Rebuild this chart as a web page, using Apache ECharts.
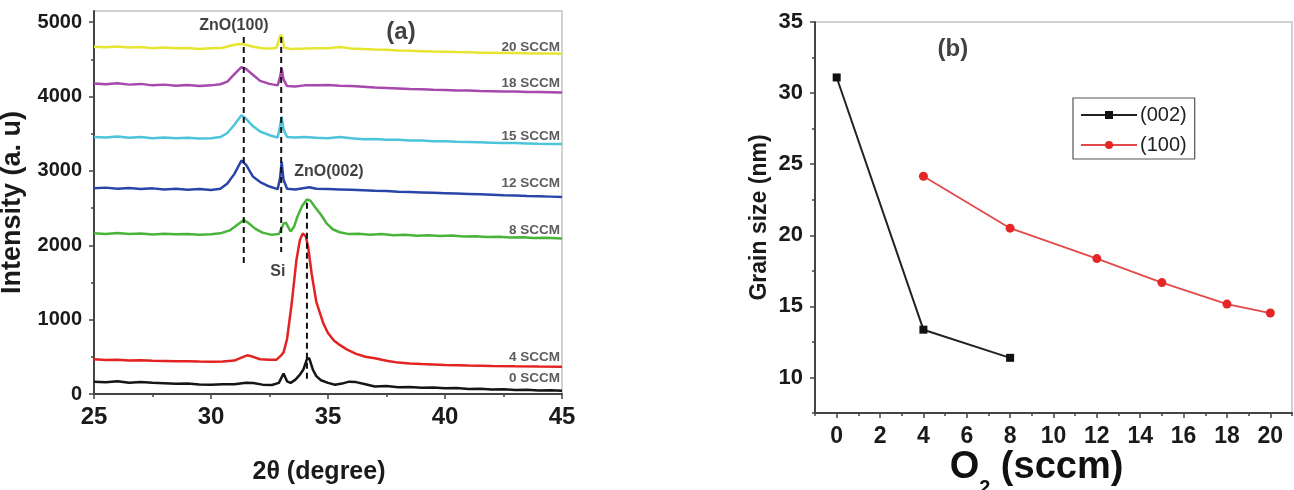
<!DOCTYPE html>
<html>
<head>
<meta charset="utf-8">
<script src="https://cdn.jsdelivr.net/npm/echarts@6/dist/echarts.min.js"></script>
<style>
html, body { margin: 0; padding: 0; background: #fff; }
#chart { width: 1294px; height: 490px; }
</style>
</head>
<body>
<div id="chart"></div>
<script>
// (a) XRD patterns, [2theta, intensity]
const sccm0 = [[25,166],[25.5,158],[26,170],[26.5,152],[27,160],[27.5,150],[28,145],[28.5,138],[29,142],[29.5,128],[30,124],[30.5,130],[31,132],[31.5,150],[31.8,148],[32.2,126],[32.6,122],[32.9,150],[33.1,275],[33.25,170],[33.4,150],[33.6,190],[33.8,260],[33.95,330],[34.1,470],[34.2,480],[34.35,330],[34.5,240],[34.7,185],[35,150],[35.3,125],[35.6,140],[35.9,166],[36.2,160],[36.6,130],[37,100],[37.5,108],[38,92],[38.5,95],[39,85],[39.5,88],[40,76],[40.5,80],[41,68],[41.5,72],[42,60],[42.5,64],[43,55],[43.5,58],[44,48],[44.5,52],[45,45]];
const sccm4 = [[25,466],[25.5,458],[26,462],[26.5,452],[27,455],[27.5,446],[28,444],[28.5,440],[29,442],[29.5,436],[30,434],[30.5,438],[31,450],[31.3,490],[31.55,520],[31.8,500],[32.1,468],[32.5,460],[32.8,462],[33,520],[33.1,560],[33.25,740],[33.45,1220],[33.65,1800],[33.8,2070],[33.92,2160],[34.05,2120],[34.15,1980],[34.3,1620],[34.5,1240],[34.8,950],[35,820],[35.25,720],[35.5,660],[35.8,600],[36.2,540],[36.6,500],[37,480],[37.5,448],[38,422],[38.5,410],[39,402],[39.5,396],[40,390],[40.5,386],[41,382],[42,376],[43,372],[44,369],[45,367]];
const sccm8 = [[25,2160],[25.5,2150],[26,2165],[26.5,2150],[27,2158],[27.5,2145],[28,2155],[28.5,2148],[29,2150],[29.5,2140],[30,2148],[30.4,2160],[30.8,2200],[31.1,2270],[31.4,2340],[31.6,2300],[31.9,2220],[32.2,2170],[32.6,2140],[32.9,2150],[33.1,2290],[33.2,2305],[33.4,2185],[33.55,2250],[33.7,2390],[33.9,2530],[34.1,2615],[34.25,2600],[34.45,2510],[34.7,2410],[34.95,2290],[35.2,2215],[35.5,2175],[35.9,2150],[36.3,2155],[36.8,2140],[37.3,2150],[37.8,2135],[38.3,2140],[38.8,2128],[39.3,2135],[39.8,2125],[40.3,2130],[40.8,2118],[41.3,2122],[41.8,2110],[42.3,2115],[42.8,2105],[43.3,2108],[43.8,2098],[44.3,2100],[45,2092]];
const sccm12 = [[25,2765],[25.5,2775],[26,2760],[26.5,2770],[27,2755],[27.5,2765],[28,2750],[28.5,2760],[29,2745],[29.5,2755],[30,2742],[30.4,2760],[30.7,2830],[31,2960],[31.3,3140],[31.5,3080],[31.8,2920],[32.1,2850],[32.5,2790],[32.85,2755],[32.95,2900],[33.02,3120],[33.1,2880],[33.25,2760],[33.6,2750],[34,2770],[34.2,2780],[34.5,2760],[35,2755],[35.5,2750],[36,2745],[36.5,2740],[37,2732],[37.5,2728],[38,2720],[38.5,2715],[39,2710],[39.5,2705],[40,2700],[40.5,2695],[41,2690],[41.5,2685],[42,2680],[42.5,2672],[43,2668],[43.5,2662],[44,2658],[44.5,2654],[45,2650]];
const sccm15 = [[25,3455],[25.5,3448],[26,3462],[26.5,3445],[27,3455],[27.5,3440],[28,3450],[28.5,3440],[29,3445],[29.5,3435],[30,3440],[30.4,3455],[30.7,3510],[31,3620],[31.3,3750],[31.5,3700],[31.8,3600],[32.1,3530],[32.5,3480],[32.85,3450],[32.95,3600],[33.02,3730],[33.1,3560],[33.25,3455],[33.6,3450],[34,3455],[34.5,3445],[35,3440],[35.5,3455],[36,3438],[36.5,3425],[37,3430],[37.5,3420],[38,3418],[38.5,3410],[39,3408],[39.5,3400],[40,3398],[40.5,3392],[41,3390],[41.5,3385],[42,3380],[42.5,3375],[43,3375],[43.5,3370],[44,3365],[44.5,3362],[45,3360]];
const sccm18 = [[25,4175],[25.5,4165],[26,4180],[26.5,4160],[27,4170],[27.5,4150],[28,4160],[28.5,4145],[29,4155],[29.5,4140],[30,4150],[30.4,4165],[30.7,4200],[31,4300],[31.3,4395],[31.5,4370],[31.8,4290],[32.1,4210],[32.5,4170],[32.85,4150],[32.95,4260],[33.02,4380],[33.1,4230],[33.25,4140],[33.6,4135],[34,4150],[34.5,4150],[35,4155],[35.5,4145],[36,4140],[36.5,4130],[37,4120],[37.5,4115],[38,4108],[38.5,4100],[39,4098],[39.5,4090],[40,4088],[40.5,4082],[41,4080],[41.5,4075],[42,4072],[42.5,4068],[43,4066],[43.5,4062],[44,4060],[44.5,4058],[45,4055]];
const sccm20 = [[25,4670],[25.5,4662],[26,4672],[26.5,4658],[27,4665],[27.5,4650],[28,4658],[28.5,4648],[29,4652],[29.5,4640],[30,4648],[30.5,4655],[30.9,4690],[31.2,4705],[31.45,4700],[31.8,4670],[32.2,4650],[32.6,4645],[32.8,4655],[32.9,4760],[32.97,4830],[33.05,4800],[33.12,4660],[33.4,4640],[34,4645],[34.5,4650],[35,4648],[35.5,4665],[36,4645],[36.5,4638],[37,4632],[37.5,4628],[38,4620],[38.5,4615],[39,4610],[39.5,4605],[40,4602],[40.5,4598],[41,4595],[41.5,4590],[42,4590],[42.5,4585],[43,4585],[43.5,4582],[44,4580],[44.5,4578],[45,4575]];

// dashed peak guides
const guide100 = [[31.4, 4800], [31.4, 1735]];
const guideSi = [[33.0, 4800], [33.0, 1910]];
const guide002 = [[34.1, 2570], [34.1, 190]];

// curve names, anchored at the right end just above each curve
const curveNames = ['20 SCCM', '18 SCCM', '15 SCCM', '12 SCCM', '8 SCCM', '4 SCCM', '0 SCCM'];
const curveNameY = [4664, 4180, 3468, 2836, 2204, 497, 215];

// peak notes
const noteText = ['ZnO(100)', 'ZnO(002)', 'Si', '(a)'];
const noteAt = [[30.98, 4959], [35.04, 2997], [32.86, 1640], [38.12, 4865]];

// (b) grain size
const o2_002 = [0, 4, 8];
const size_002 = [31.1, 13.36, 11.38];
const o2_100 = [4, 8, 12, 15, 18, 20];
const size_100 = [24.15, 20.5, 18.36, 16.67, 15.16, 14.53];

const xTicksA = [25, 30, 35, 40, 45];
const xMinorA = [27.5, 32.5, 37.5, 42.5];
const yTicksA = [0, 1000, 2000, 3000, 4000, 5000];
const yMinorA = [500, 1500, 2500, 3500, 4500];
const xTicksB = [0, 2, 4, 6, 8, 10, 12, 14, 16, 18, 20];
const xMinorB = [-1, 1, 3, 5, 7, 9, 11, 13, 15, 17, 19, 21];
const yTicksB = [10, 15, 20, 25, 30, 35];
const yMinorB = [7.5, 12.5, 17.5, 22.5, 27.5, 32.5];

const FONT = 'Liberation Sans, Arial, sans-serif';
const AXIS = '#444';

const chart = echarts.init(document.getElementById('chart'));

function mainAxis(opts) {
    return Object.assign({
        type: 'value',
        splitLine: { show: false },
        nameMoveOverlap: false,
        axisLine: { show: true, onZero: false, lineStyle: { color: AXIS, width: 2 } },
        axisTick: { show: true, length: 5, lineStyle: { color: AXIS, width: 1.5 } },
        axisLabel: { color: '#1a1a1a', fontWeight: 'bold', fontFamily: FONT, margin: 12 },
        nameTextStyle: { color: '#1a1a1a', fontWeight: 'bold', fontFamily: FONT },
    }, opts);
}
function minorAxis(opts, values) {
    return Object.assign({
        type: 'value',
        splitLine: { show: false },
        axisLine: { show: false, onZero: false },
        axisLabel: { show: false },
        axisTick: { show: true, length: 3, customValues: values, lineStyle: { color: AXIS, width: 1.5 } },
    }, opts);
}
const plain = (v) => String(v);

const xrd = [
    ['0 SCCM', sccm0, '#151515'],
    ['4 SCCM', sccm4, '#e32222'],
    ['8 SCCM', sccm8, '#48b43a'],
    ['12 SCCM', sccm12, '#2a45a8'],
    ['15 SCCM', sccm15, '#4cc4da'],
    ['18 SCCM', sccm18, '#a648ac'],
    ['20 SCCM', sccm20, '#e6e632'],
];

const series = xrd.map(([name, data, color]) => ({
    name,
    type: 'line',
    xAxisIndex: 0,
    yAxisIndex: 0,
    data,
    showSymbol: false,
    symbol: 'none',
    lineStyle: { color, width: 2.5 },
    z: 2,
}));

[guide100, guideSi, guide002].forEach((g) => {
    series.push({
        type: 'line',
        xAxisIndex: 0,
        yAxisIndex: 0,
        data: g,
        symbol: 'none',
        lineStyle: { color: '#111', width: 2, type: [6, 4] },
        z: 3,
    });
});

series.push({
    type: 'scatter',
    xAxisIndex: 0,
    yAxisIndex: 0,
    symbolSize: 0,
    data: curveNames.map((n, i) => ({ value: [44.91, curveNameY[i]], name: n })),
    label: {
        show: true,
        position: 'inside',
        align: 'right',
        verticalAlign: 'middle',
        formatter: (p) => p.name,
        color: '#333',
        fontSize: 13.5,
        fontWeight: 'bold',
        fontFamily: FONT,
    },
    z: 4,
});

series.push({
    type: 'scatter',
    xAxisIndex: 0,
    yAxisIndex: 0,
    symbolSize: 0,
    data: noteText.map((n, i) => ({
        value: noteAt[i],
        name: n,
        label: n === '(a)' ? { fontSize: 24 } : {},
    })),
    label: {
        show: true,
        position: 'inside',
        align: 'center',
        verticalAlign: 'middle',
        formatter: (p) => p.name,
        color: '#111',
        fontSize: 16,
        fontWeight: 'bold',
        fontFamily: FONT,
    },
    z: 4,
});

series.push({
    name: '(002)',
    type: 'line',
    xAxisIndex: 2,
    yAxisIndex: 2,
    data: o2_002.map((x, i) => [x, size_002[i]]),
    symbol: 'rect',
    symbolSize: 8,
    itemStyle: { color: '#111' },
    lineStyle: { color: '#222', width: 2 },
});
series.push({
    name: '(100)',
    type: 'line',
    xAxisIndex: 2,
    yAxisIndex: 2,
    data: o2_100.map((x, i) => [x, size_100[i]]),
    symbol: 'circle',
    symbolSize: 9,
    itemStyle: { color: '#e52626' },
    lineStyle: { color: '#e24a4a', width: 1.8 },
});

series.push({
    type: 'scatter',
    xAxisIndex: 2,
    yAxisIndex: 2,
    symbolSize: 0,
    data: [{ value: [5.36, 33.1], name: '(b)' }],
    label: {
        show: true,
        position: 'inside',
        formatter: (p) => p.name,
        color: '#111',
        fontSize: 24,
        fontWeight: 'bold',
        fontFamily: FONT,
    },
});

const gridA = { left: 94, top: 11, width: 468, height: 383, outerBoundsMode: 'none', containLabel: false };
const gridB = { left: 815, top: 22, width: 477, height: 391, outerBoundsMode: 'none', containLabel: false };

const option = {
    animation: false,
    backgroundColor: '#fff',
    grid: [
        Object.assign({ show: true, borderColor: '#c4c4c4', borderWidth: 1.5 }, gridA),
        Object.assign({}, gridA),
        Object.assign({ show: true, borderColor: '#c4c4c4', borderWidth: 1.5 }, gridB),
        Object.assign({}, gridB),
    ],
    legend: {
        data: ['(002)', '(100)'],
        orient: 'vertical',
        left: 1073,
        top: 98,
        itemWidth: 56,
        itemHeight: 10,
        itemGap: 8,
        padding: [6, 8, 3, 7],
        borderColor: '#555',
        borderWidth: 1.2,
        textStyle: { fontSize: 20, color: '#222', fontFamily: FONT, lineHeight: 22, padding: [0, 0, 0, -2] },
    },
    xAxis: [
        mainAxis({
            gridIndex: 0, min: 25, max: 45,
            axisLabel: { color: '#1a1a1a', fontWeight: 'bold', fontFamily: FONT, fontSize: 24, margin: 11, customValues: xTicksA, formatter: plain },
            axisTick: { show: true, length: 5, customValues: xTicksA, lineStyle: { color: AXIS, width: 1.5 } },
            name: '2θ (degree)', nameLocation: 'middle', nameGap: 66,
            nameTextStyle: { color: '#1a1a1a', fontWeight: 'bold', fontFamily: FONT, fontSize: 25, padding: [0, 18, 0, 0] },
        }),
        minorAxis({ gridIndex: 1, min: 25, max: 45 }, xMinorA),
        mainAxis({
            gridIndex: 2, min: -1, max: 21,
            axisLabel: { color: '#1a1a1a', fontWeight: 'bold', fontFamily: FONT, fontSize: 23, margin: 12, customValues: xTicksB, formatter: plain },
            axisTick: { show: true, length: 5, customValues: xTicksB, lineStyle: { color: AXIS, width: 1.5 } },
            name: '{a|O}{b|2}{a| (sccm)}', nameLocation: 'middle', nameGap: 25,
            nameTextStyle: {
                padding: [0, 34, 0, 0],
                rich: {
                    a: { fontSize: 38, fontWeight: 'bold', fontFamily: FONT, color: '#111' },
                    b: { fontSize: 20, fontWeight: 'bold', fontFamily: FONT, color: '#111', lineHeight: 60, verticalAlign: 'bottom' },
                },
            },
        }),
        minorAxis({ gridIndex: 3, min: -1, max: 21 }, xMinorB),
    ],
    yAxis: [
        mainAxis({
            gridIndex: 0, min: 0, max: 5150,
            axisLabel: { color: '#1a1a1a', fontWeight: 'bold', fontFamily: FONT, fontSize: 20, margin: 12, customValues: yTicksA, formatter: plain },
            axisTick: { show: true, length: 5, customValues: yTicksA, lineStyle: { color: AXIS, width: 1.5 } },
            name: 'Intensity (a. u)', nameLocation: 'middle', nameGap: 68, nameRotate: 90,
            nameTextStyle: { color: '#1a1a1a', fontWeight: 'bold', fontFamily: FONT, fontSize: 27 },
        }),
        minorAxis({ gridIndex: 1, min: 0, max: 5150 }, yMinorA),
        mainAxis({
            gridIndex: 2, min: 7.5, max: 35,
            axisLabel: { color: '#1a1a1a', fontWeight: 'bold', fontFamily: FONT, fontSize: 22, margin: 12, customValues: yTicksB, formatter: plain },
            axisTick: { show: true, length: 5, customValues: yTicksB, lineStyle: { color: AXIS, width: 1.5 } },
            name: 'Grain size (nm)', nameLocation: 'middle', nameGap: 44, nameRotate: 90,
            nameTextStyle: { color: '#1a1a1a', fontWeight: 'bold', fontFamily: FONT, fontSize: 23 },
        }),
        minorAxis({ gridIndex: 3, min: 7.5, max: 35 }, yMinorB),
    ],
    series,
};

chart.setOption(option);
</script>
</body>
</html>
